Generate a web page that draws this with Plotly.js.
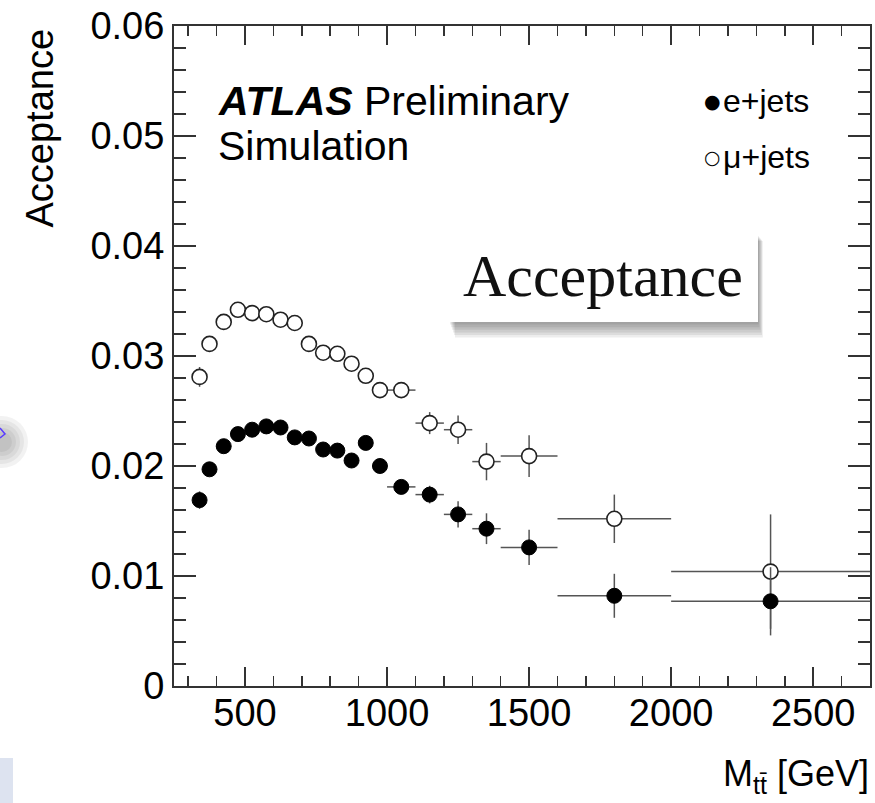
<!DOCTYPE html>
<html>
<head>
<meta charset="utf-8">
<script src="https://cdn.plot.ly/plotly-3.0.1.min.js"></script>
<style>
  html, body { margin: 0; padding: 0; background: #fff; }
  #chart { width: 875px; height: 803px; }
</style>
</head>
<body>
<div id="chart"></div>
<script>
// ---- data ----
const massBinCenters = [340, 375, 425, 475, 525, 575, 625, 675, 725, 775, 825, 875, 925, 975, 1050, 1150, 1250, 1350, 1500, 1800, 2350];
const massBinHalfWidths = [15, 25, 25, 25, 25, 25, 25, 25, 25, 25, 25, 25, 25, 25, 50, 50, 50, 50, 100, 200, 350];
const eJetsAcceptance = [0.0169, 0.0197, 0.0218, 0.0229, 0.0233, 0.0236, 0.0235, 0.0226, 0.0225, 0.0215, 0.0214, 0.0205, 0.0221, 0.0200, 0.0181, 0.0174, 0.0156, 0.0143, 0.0126, 0.0082, 0.0077];
const eJetsError = [0.0008, 0.0005, 0.0005, 0.0005, 0.0005, 0.0005, 0.0005, 0.0005, 0.0005, 0.0005, 0.0005, 0.0005, 0.0006, 0.0006, 0.0006, 0.0008, 0.0012, 0.0014, 0.0016, 0.0020, 0.0031];
const muJetsAcceptance = [0.0281, 0.0311, 0.0331, 0.0342, 0.0339, 0.0338, 0.0333, 0.0330, 0.0311, 0.0303, 0.0302, 0.0293, 0.0282, 0.0269, 0.0269, 0.0239, 0.0233, 0.0204, 0.0209, 0.0152, 0.0104];
const muJetsError = [0.0009, 0.0005, 0.0005, 0.0005, 0.0005, 0.0005, 0.0005, 0.0005, 0.0005, 0.0005, 0.0005, 0.0005, 0.0006, 0.0006, 0.0006, 0.0010, 0.0013, 0.0017, 0.0019, 0.0022, 0.0052];
const seriesNames = ['e+jets', 'μ+jets'];
const yTickValues = [0, 0.01, 0.02, 0.03, 0.04, 0.05, 0.06];
const xTickValues = [500, 1000, 1500, 2000, 2500];

// ---- layout helpers (pixel -> paper) ----
const L = 174, R = 870, T = 26, B = 686;
const W = 875, H = 803;
const px = v => (v - L) / (R - L);
const py = v => (B - v) / (B - T);

const FONT = 'Liberation Sans, Arial, Helvetica, sans-serif';
const errStyle = { type: 'data', visible: true, thickness: 1.5, width: 0, color: '#555' };

const traces = [
  {
    type: 'scatter', mode: 'markers', name: seriesNames[1],
    x: massBinCenters, y: muJetsAcceptance,
    error_y: Object.assign({ array: muJetsError }, errStyle),
    error_x: Object.assign({ array: massBinHalfWidths }, errStyle),
    marker: { symbol: 'circle', size: 15, color: '#fff', line: { color: '#222', width: 1.6 } },
    showlegend: false, hoverinfo: 'x+y'
  },
  {
    type: 'scatter', mode: 'markers', name: seriesNames[0],
    x: massBinCenters, y: eJetsAcceptance,
    error_y: Object.assign({ array: eJetsError }, errStyle),
    error_x: Object.assign({ array: massBinHalfWidths }, errStyle),
    marker: { symbol: 'circle', size: 15, color: '#000', line: { color: '#000', width: 1 } },
    showlegend: false, hoverinfo: 'x+y'
  }
];

const axisCommon = {
  showline: true, linecolor: '#333', linewidth: 2, mirror: 'allticks',
  ticks: 'inside', tickcolor: '#333', tickwidth: 1.5,
  showgrid: false, zeroline: false,
  tickfont: { family: FONT, size: 38, color: '#000' }
};

const shapes = [];
// shadow of the overlay box
const bx0 = 447, bx1 = 758, by0 = 231, by1 = 322;
for (let i = 1; i <= 6; i++) {
  shapes.push({
    type: 'rect', xref: 'paper', yref: 'paper', layer: 'above',
    x0: px(bx0 + 2 + i), x1: px(bx1 + i * 0.8), y0: py(by0 + 4 + i), y1: py(by1 + i * 2.6),
    fillcolor: 'rgba(0,0,0,0.07)', line: { width: 0 }
  });
}
shapes.push({
  type: 'rect', xref: 'paper', yref: 'paper', layer: 'above',
  x0: px(bx0), x1: px(bx1), y0: py(by0), y1: py(by1),
  fillcolor: '#fff', line: { width: 0 }
});
// slide artefacts at left edge
for (let i = 0; i < 5; i++) {
  const r = 26 - i * 4;
  shapes.push({
    type: 'circle', xref: 'paper', yref: 'paper', layer: 'above',
    x0: px(2 - r), x1: px(2 + r), y0: py(442 - r), y1: py(442 + r),
    fillcolor: 'rgba(0,0,0,0.05)', line: { width: 0 }
  });
}
shapes.push({
  type: 'path', xref: 'paper', yref: 'paper', layer: 'above',
  path: `M ${px(0)} ${py(428)} L ${px(5)} ${py(434)} L ${px(0)} ${py(438)}`,
  line: { color: '#5a3cff', width: 1.5 }
});
shapes.push({
  type: 'rect', xref: 'paper', yref: 'paper', layer: 'below',
  x0: px(0), x1: px(13), y0: py(758), y1: py(803),
  fillcolor: '#dde3f0', line: { width: 0 }
});

const annotations = [
  { text: 'Acceptance', xref: 'paper', yref: 'paper', x: px(40), y: py(27), textangle: -90,
    xanchor: 'center', yanchor: 'top', showarrow: false,
    font: { family: FONT, size: 38, color: '#000' } },
  { text: 'M<sub>tt̄</sub> [GeV]', xref: 'paper', yref: 'paper', x: px(871), y: py(776),
    xanchor: 'right', yanchor: 'middle', showarrow: false,
    font: { family: FONT, size: 36, color: '#000' } },
  { text: '<b><i>ATLAS</i></b> Preliminary', xref: 'paper', yref: 'paper', x: px(216), y: py(101),
    xanchor: 'left', yanchor: 'middle', showarrow: false,
    font: { family: FONT, size: 41, color: '#000' } },
  { text: 'Simulation', xref: 'paper', yref: 'paper', x: px(216), y: py(146),
    xanchor: 'left', yanchor: 'middle', showarrow: false,
    font: { family: FONT, size: 41, color: '#000' } },
  { text: '●', xref: 'paper', yref: 'paper', x: px(712), y: py(101),
    xanchor: 'center', yanchor: 'middle', showarrow: false,
    font: { family: 'DejaVu Sans', size: 19, color: '#000' } },
  { text: seriesNames[0], xref: 'paper', yref: 'paper', x: px(721), y: py(101),
    xanchor: 'left', yanchor: 'middle', showarrow: false,
    font: { family: FONT, size: 32, color: '#000' } },
  { text: '○', xref: 'paper', yref: 'paper', x: px(712), y: py(157),
    xanchor: 'center', yanchor: 'middle', showarrow: false,
    font: { family: 'DejaVu Sans', size: 19, color: '#000' } },
  { text: seriesNames[1], xref: 'paper', yref: 'paper', x: px(721), y: py(157),
    xanchor: 'left', yanchor: 'middle', showarrow: false,
    font: { family: FONT, size: 32, color: '#000' } },
  { text: 'Acceptance', xref: 'paper', yref: 'paper', x: px((bx0 + bx1) / 2), y: py(276),
    xanchor: 'center', yanchor: 'middle', showarrow: false,
    font: { family: 'Liberation Serif, Times New Roman, serif', size: 60, color: '#111' } }
];

const layout = {
  width: W, height: H,
  margin: { l: L, r: W - R, t: T, b: H - B, pad: 0 },
  paper_bgcolor: '#fff', plot_bgcolor: '#fff',
  showlegend: false,
  xaxis: Object.assign({}, axisCommon, {
    range: [250, 2700], tickvals: xTickValues, ticktext: xTickValues.map(String),
    ticklen: 19, ticklabelstandoff: -8,
    minor: { dtick: 100, tick0: 0, ticks: 'inside', ticklen: 10, tickwidth: 1.5, tickcolor: '#333', showgrid: false }
  }),
  yaxis: Object.assign({}, axisCommon, {
    range: [0, 0.06], tickvals: yTickValues, ticktext: yTickValues.map(String),
    ticklen: 22,
    minor: { dtick: 0.002, tick0: 0, ticks: 'inside', ticklen: 12, tickwidth: 1.5, tickcolor: '#333', showgrid: false }
  }),
  shapes: shapes,
  annotations: annotations
};

Plotly.newPlot('chart', traces, layout, { displayModeBar: false, staticPlot: true });
</script>
</body>
</html>
